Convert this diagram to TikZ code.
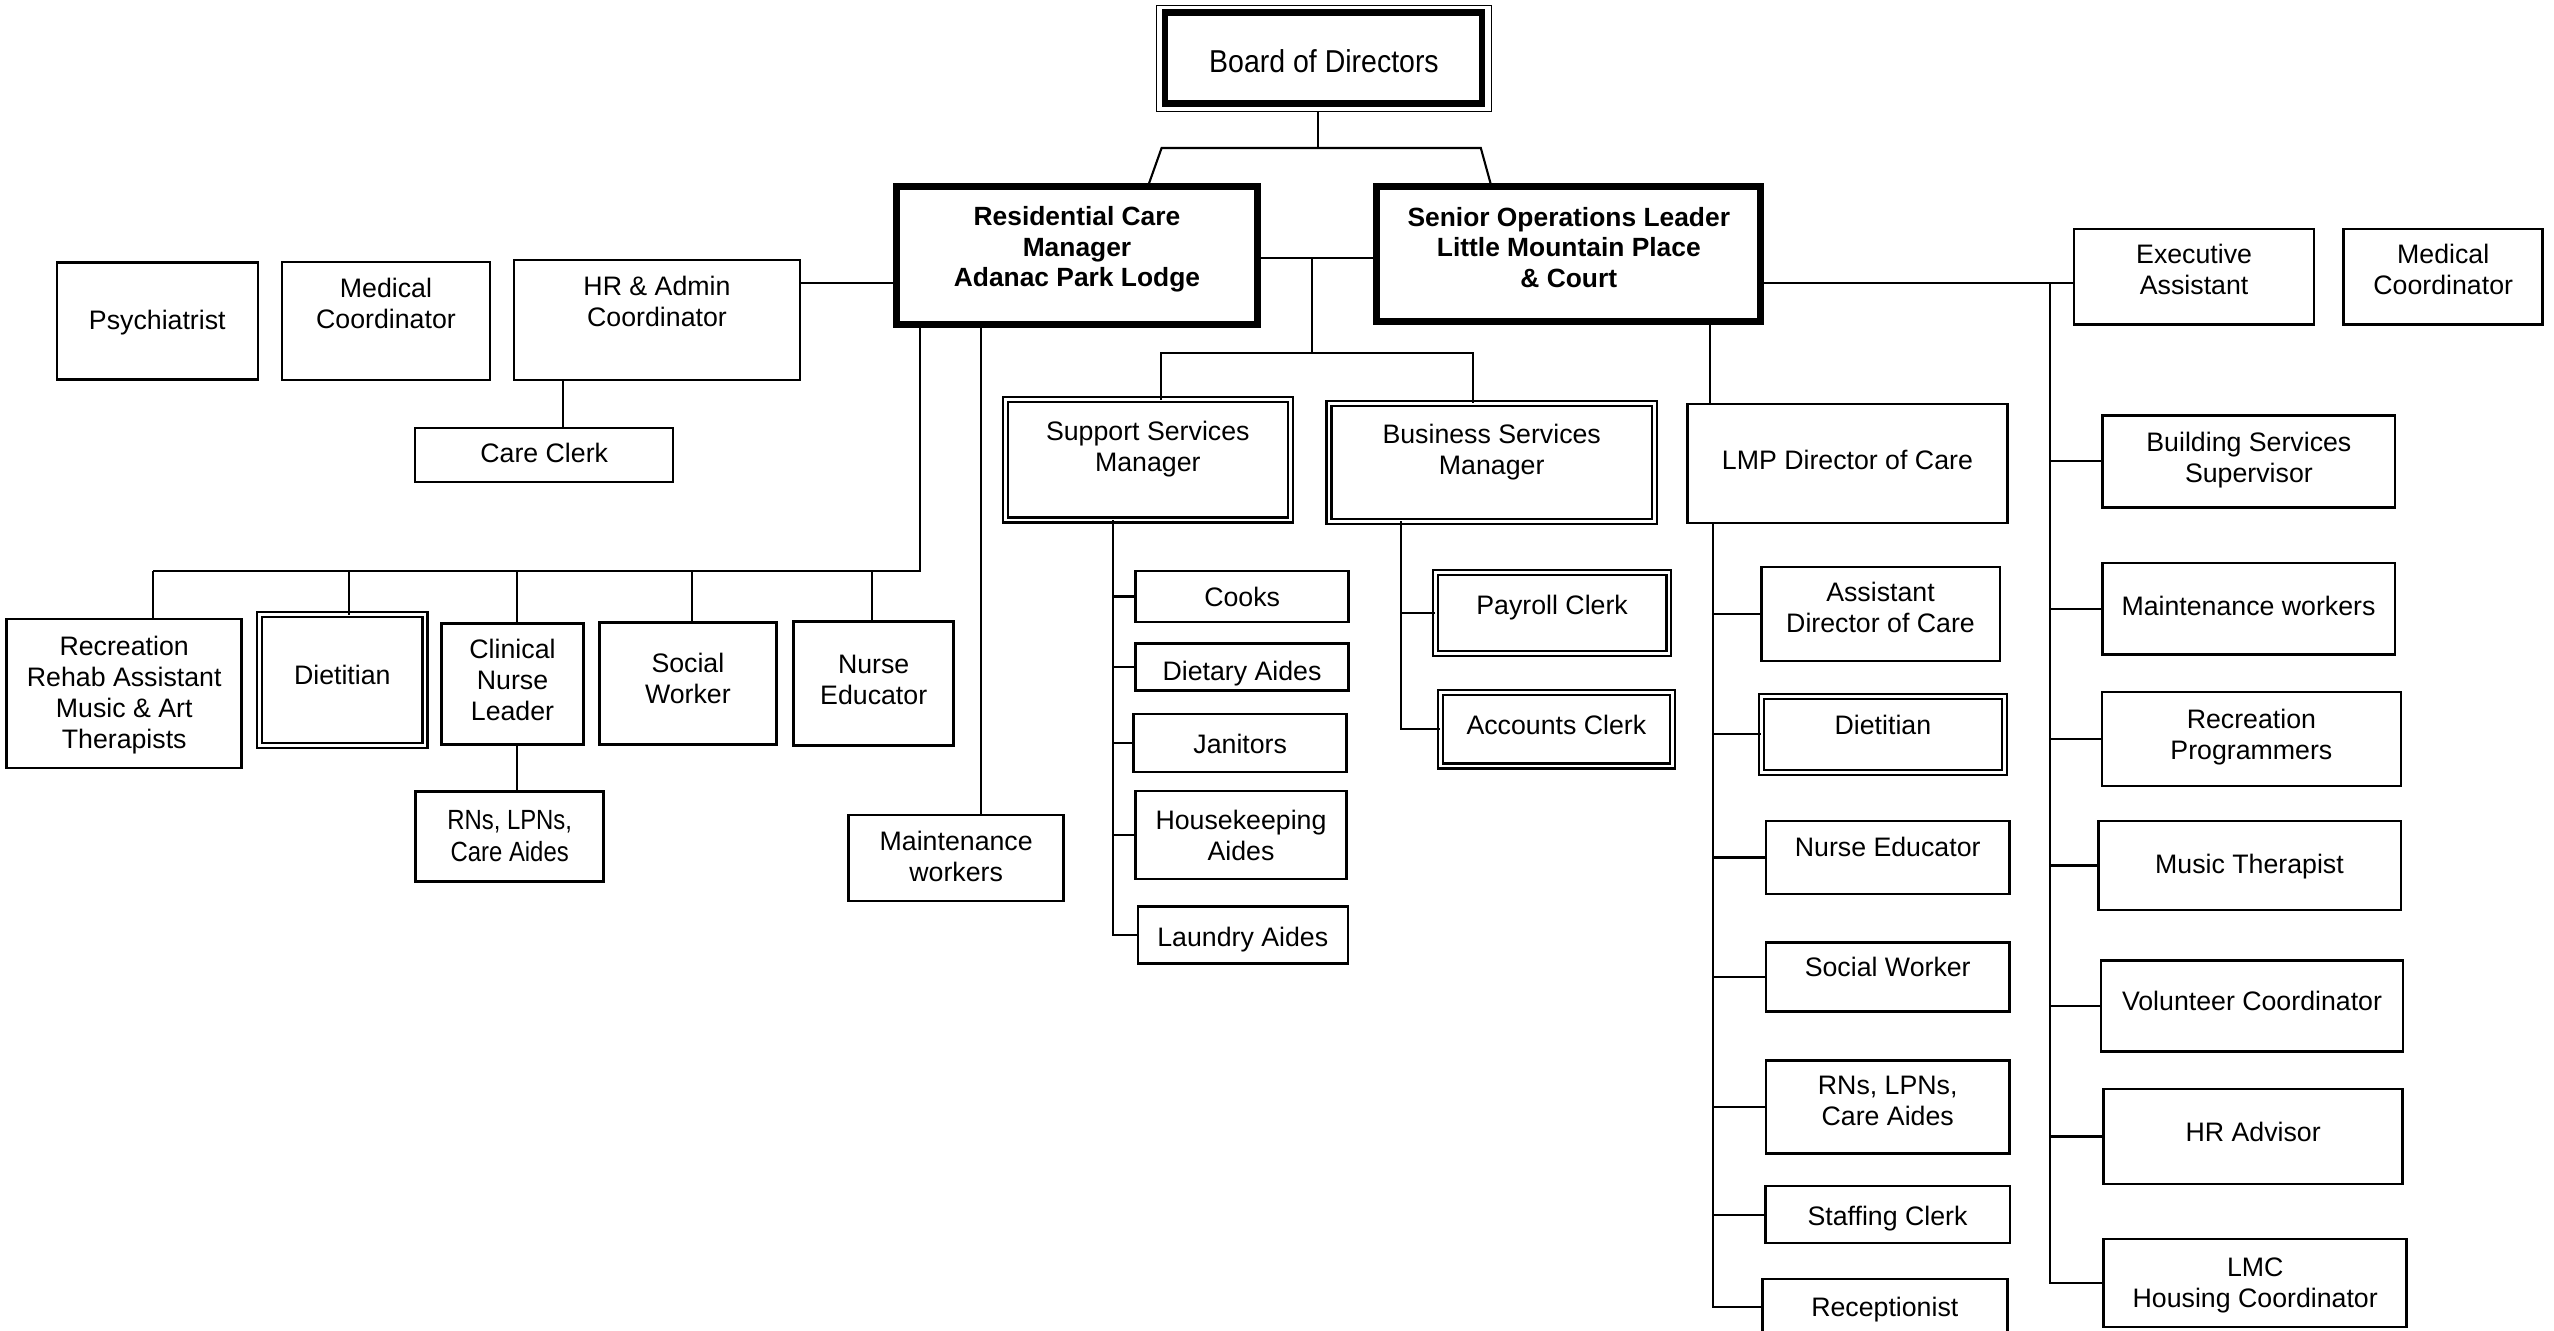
\documentclass[tikz,border=0pt]{standalone}
\usepackage{fontspec}
\setmainfont{Liberation Sans}
\newfontfamily\boardfont[FakeStretch=0.9]{Liberation Sans}
\newfontfamily\narrowfont[FakeStretch=0.86]{Liberation Sans}
\usetikzlibrary{positioning}

\begin{document}
\begin{tikzpicture}[x=0.01cm,y=-0.01cm,line width=0.6pt,
 every node/.style={outer sep=0pt},
 txt/.style={font=\fontsize{7.6}{8.8}\selectfont,align=center,inner sep=0pt},
 btxt/.style={txt,font=\bfseries\fontsize{7.5}{8.7}\selectfont},
 up/.style={yshift=#1*0.01cm},
 post/.style 2 args={draw,line width=0.7pt,inner sep=0pt,
  minimum width=#1*0.01cm,minimum height=#2*0.01cm},
 dpost/.style 2 args={post={#1}{#2},double,line width=0.65pt,double distance=0.75pt},
 lead/.style 2 args={post={#1}{#2},line width=2pt}]

  \useasboundingbox (0,0) rectangle (2554,1330);

  % top of the chart
  \node[post={335}{105.6},line width=0.45pt,label={[txt,up=-2.5,font=\boardfont\fontsize{9}{10}\selectfont]center:Board of Directors}] (bod) at (1324,58.5) {};
  \draw[line width=1.85pt] ([shift={(8.5,6.6)}]bod.north west) rectangle ([shift={(-9.5,-8)}]bod.south east);
  \node[lead={360.4}{138},label={[btxt,up=6.4]center:Residential Care\\Manager\\Adanac Park Lodge}] (rcm) at (1077,255.8) {};
  \node[lead={384}{134.7},label={[btxt,up=6.7]center:Senior Operations Leader\\Little Mountain Place\\\& Court}] (sol) at (1568.8,254.2) {};

  % lodge side
  \node[post={201}{117},label={[txt,up=-2]center:Psychiatrist}] (psy) at (157.3,320.8) {};
  \node[post={208}{118},label={[txt,up=18]center:Medical\\Coordinator}] (mcl) at (386,321) {};
  \node[post={286}{120},label={[txt,up=18.5]center:HR \& Admin\\Coordinator}] (hra) at (657,320) {};
  \node[post={258}{54},label={[txt,up=1.7]center:Care Clerk}] (ccl) at (544.2,455) {};

  \node[post={235}{149},label={[txt,up=-2]center:Recreation\\Rehab Assistant\\Music \& Art\\Therapists}] (rec) at (124.2,693.4) {};
  \node[dpost={165.4}{130.8},label={[txt,up=5]center:Dietitian}] (dtl) at (342.3,680) {};
  \node[post={142}{121},label={[txt,up=4.4]center:Clinical\\Nurse\\Leader}] (cnl) at (512.5,683.9) {};
  \node[post={177}{122},label={[txt,up=5]center:Social\\Worker}] (swl) at (687.9,683.7) {};
  \node[post={160}{124},label={[txt,up=3]center:Nurse\\Educator}] (nel) at (873.7,683.4) {};
  \node[post={188}{90},label={[txt,font=\narrowfont\fontsize{7.9}{9.1}\selectfont]center:{RNs, LPNs,\\Care Aides}}] (rnl) at (509.7,836.4) {};
  \node[post={215}{86},label={[txt,up=2]center:Maintenance\\workers}] (mwl) at (956.2,858) {};

  % support and business services
  \node[dpost={285}{120.4},label={[txt,up=11]center:Support Services\\Manager}] (ssm) at (1147.8,459.8) {};
  \node[post={213}{51},label={[txt]center:Cooks}] (cok) at (1242.2,596.5) {};
  \node[post={213}{47},label={[txt,up=-7]center:Dietary Aides}] (dta) at (1242,666.8) {};
  \node[post={213}{58},label={[txt,up=-1]center:Janitors}] (jan) at (1240.2,743.2) {};
  \node[post={211}{88},label={[txt,up=0]center:Housekeeping\\Aides}] (hka) at (1241,835) {};
  \node[post={210}{57},label={[txt,up=-5]center:Laundry Aides}] (lda) at (1242.8,935) {};

  \node[dpost={325.5}{118},label={[txt,up=10]center:Business Services\\Manager}] (bsm) at (1491.7,462.4) {};
  \node[dpost={233.4}{80.8},label={[txt,up=5]center:Payroll Clerk}] (pyc) at (1552.1,613) {};
  \node[dpost={232}{73.5},label={[txt,up=4.5]center:Accounts Clerk}] (acc) at (1556.4,729.3) {};

  % care team
  \node[post={320}{118.5},label={[txt,up=3.5]center:LMP Director of Care}] (lmp) at (1847.4,463.5) {};
  \node[post={238.5}{93.5},label={[txt,up=7]center:Assistant\\Director of Care}] (adc) at (1880.5,614) {};
  \node[dpost={243}{75.6},label={[txt,up=9]center:Dietitian}] (dtr) at (1882.9,734.4) {};
  \node[post={243.6}{72.5},label={[txt,up=11]center:Nurse Educator}] (ner) at (1887.7,857.5) {};
  \node[post={243.6}{69},label={[txt,up=10]center:Social Worker}] (swr) at (1887.7,976.9) {};
  \node[post={243.6}{93},label={[txt,up=6.5]center:{RNs, LPNs,\\Care Aides}}] (rnr) at (1887.7,1107.2) {};
  \node[post={244.5}{57},label={[txt,up=-4]center:Staffing Clerk}] (stc) at (1887.5,1214.7) {};
  \node[post={245}{56},label={[txt,up=-3]center:Receptionist}] (rcp) at (1884.8,1307) {};

  % place staff
  \node[post={240}{95.5},label={[txt,up=7.7]center:Executive\\Assistant}] (exa) at (2194.1,276.7) {};
  \node[post={199}{95.5},label={[txt,up=7.7]center:Medical\\Coordinator}] (mcr) at (2443.2,276.7) {};
  \node[post={292.6}{92},label={[txt,up=1]center:Building Services\\Supervisor}] (bss) at (2248.9,461.3) {};
  \node[post={292.5}{91.5},label={[txt,up=3]center:Maintenance workers}] (mwr) at (2248.5,608.8) {};
  \node[post={299}{93.5},label={[txt,up=2]center:Recreation\\Programmers}] (rpg) at (2251.4,739) {};
  \node[post={302.5}{88.5},label={[txt,up=-1]center:Music Therapist}] (mtp) at (2249.5,865.5) {};
  \node[post={302.4}{91},label={[txt,up=5]center:Volunteer Coordinator}] (vco) at (2252,1006) {};
  \node[post={299}{94.5},label={[txt,up=4.5]center:HR Advisor}] (hrv) at (2253.2,1136.5) {};
  \node[post={303}{88},label={[txt,up=-2]center:LMC\\Housing Coordinator}] (lmc) at (2255.2,1283.2) {};

  % connectors
  \coordinate (b0) at (1318,148);
  \coordinate (bl) at (1161.6,148);
  \coordinate (br) at (1480.8,148);
  \draw (bod.south -| b0) -- (b0);
  \draw (rcm.north -| 1147.8,0) -- (bl) -- (br) -- (sol.north -| 1491.5,0);

  \coordinate (m0) at (1311.7,258.3);
  \coordinate (ssj) at (1161,353);
  \coordinate (bsj) at (1472.8,353);
  \draw (rcm.east |- m0) -- (sol.west |- m0);
  \draw (m0) -- (m0 |- ssj);
  \draw (ssm.north -| ssj) -- (ssj) -- (bsj) -- (bsm.north -| bsj);

  \coordinate (h0) at (0,282.7);
  \draw (hra.east |- h0) -- (rcm.west |- h0);
  \coordinate (c0) at (562.7,0);
  \draw (hra.south -| c0) -- (ccl.north -| c0);

  \coordinate (rl) at (920,571);
  \draw (rcm.south -| rl) -- (rl) -- (153,571);
  \foreach \n/\x in {rec/153,dtl/348.6,cnl/517,swl/691.7,nel/872}
   \draw (\x,0 |- rl) -- (\n.north -| \x,0);
  \draw (cnl.south -| 517,0) -- (rnl.north -| 517,0);
  \coordinate (ml) at (981,0);
  \draw (rcm.south -| ml) -- (mwl.north -| ml);

  \coordinate (sst) at (1112.7,0);
  \draw (ssm.south -| sst) |- (lda.west);
  \foreach \n in {cok,dta,jan,hka}
   \draw (sst |- \n.west) -- (\n.west);

  \coordinate (bst) at (1401,0);
  \draw (bsm.south -| bst) |- (acc.west);
  \draw (bst |- pyc.west) -- (pyc.west);

  \coordinate (lt) at (1710,0);
  \draw (sol.south -| lt) -- (lmp.north -| lt);
  \coordinate (ct) at (1713,0);
  \draw (lmp.south -| ct) |- (rcp.west);
  \foreach \n in {adc,dtr,ner,swr,rnr,stc}
   \draw (ct |- \n.west) -- (\n.west);

  \coordinate (rt) at (2050,282.7);
  \draw (sol.east |- rt) -- (exa.west |- rt);
  \draw (rt) |- (lmc.west);
  \foreach \n in {bss,mwr,rpg,mtp,vco,hrv}
   \draw (rt |- \n.west) -- (\n.west);

\end{tikzpicture}
\end{document}
